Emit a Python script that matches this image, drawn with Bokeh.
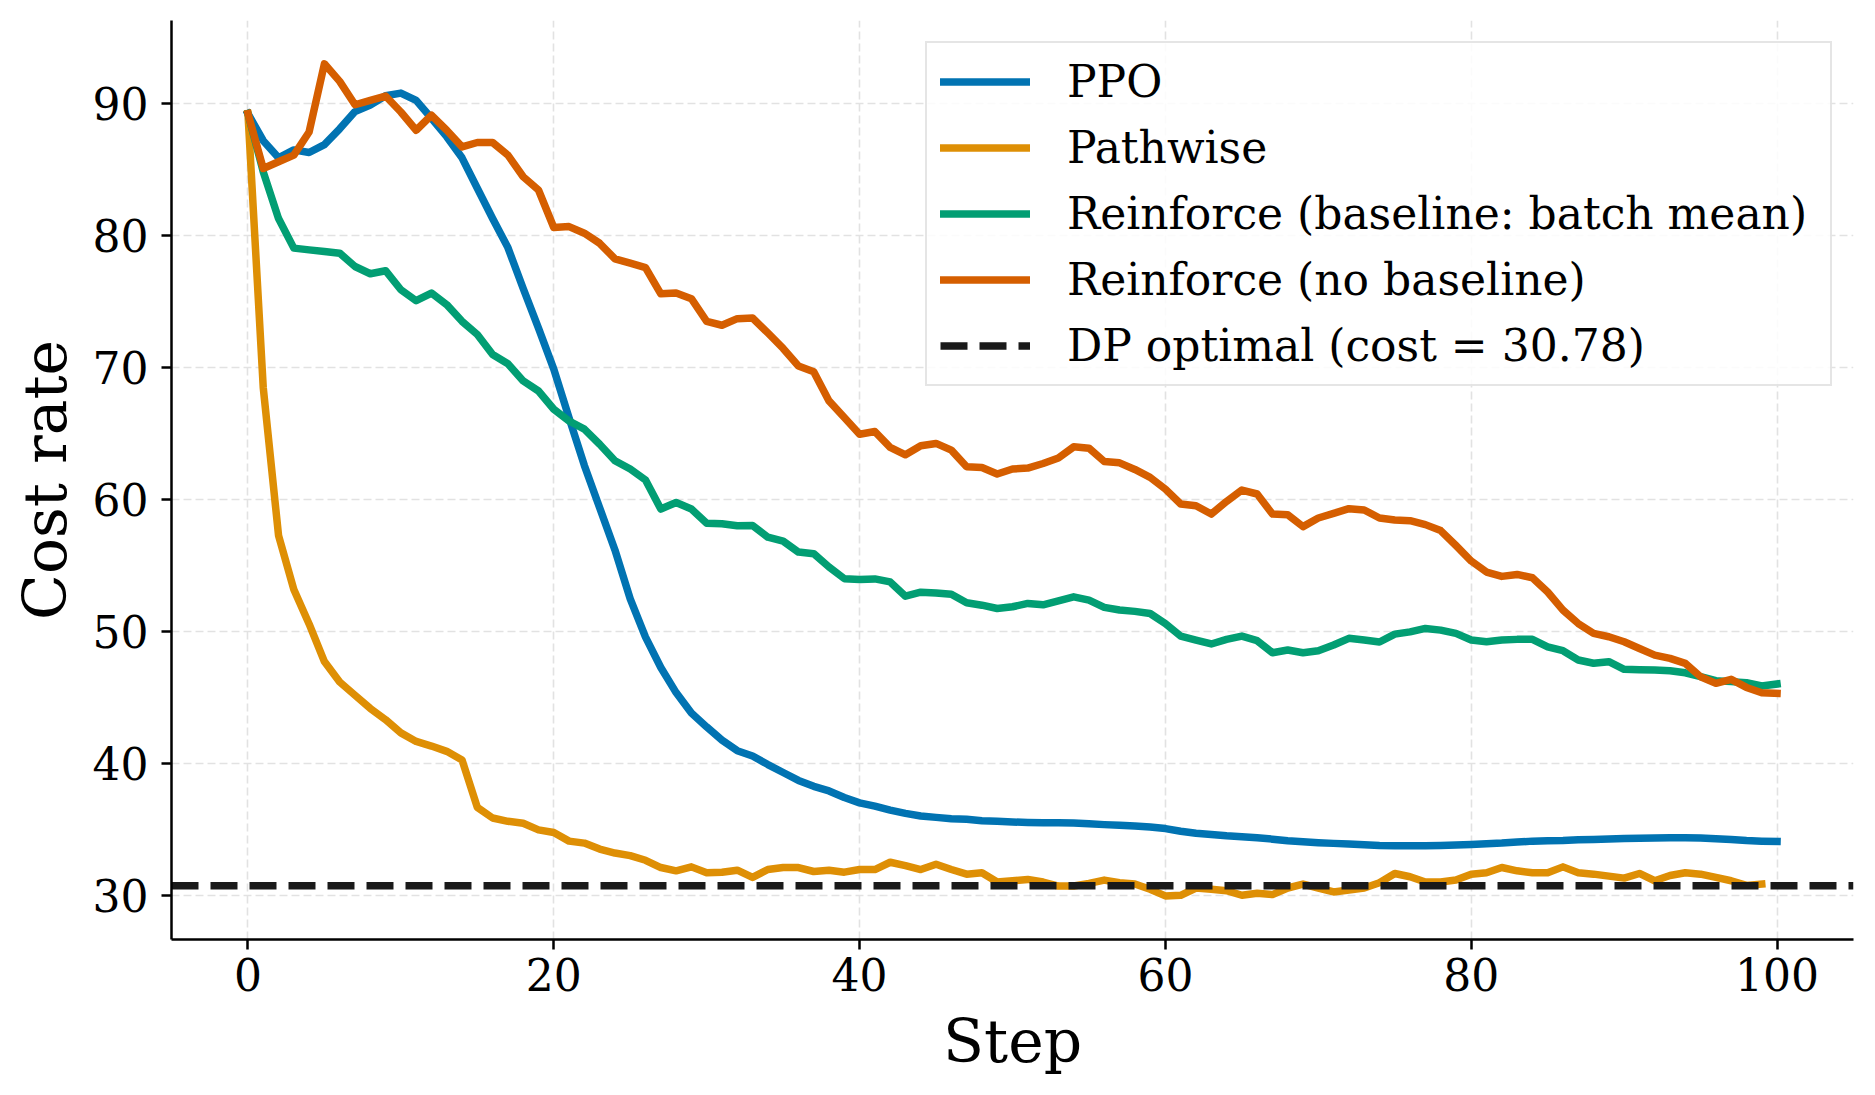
from bokeh.plotting import figure
from bokeh.models import Range1d, FixedTicker, Legend, LegendItem
from bokeh.embed import file_html
from bokeh.resources import INLINE

# Training curves: cost rate per optimisation step
steps = list(range(101))

ppo = [89.25, 87.2, 85.9, 86.5, 86.3, 86.9, 88.1, 89.4, 89.9, 90.6,
       90.8, 90.25, 88.9, 87.5, 85.9, 83.6, 81.3, 79.1, 76.0, 73.0,
       69.9, 66.2, 62.6, 59.4, 56.2, 52.5, 49.6, 47.3, 45.4, 43.85,
       42.8, 41.8, 41.0, 40.6, 39.95, 39.35, 38.75, 38.3, 37.95, 37.45,
       37.05, 36.8, 36.5, 36.25, 36.05, 35.95, 35.85, 35.8, 35.7, 35.65,
       35.6, 35.57, 35.55, 35.55, 35.52, 35.47, 35.4, 35.35, 35.3, 35.22,
       35.1, 34.9, 34.75, 34.65, 34.55, 34.48, 34.4, 34.3, 34.18, 34.1,
       34.03, 33.98, 33.93, 33.88, 33.82, 33.8, 33.8, 33.8, 33.82, 33.85,
       33.9, 33.95, 34.0, 34.08, 34.15, 34.18, 34.2, 34.25, 34.28, 34.32,
       34.35, 34.37, 34.38, 34.4, 34.4, 34.38, 34.33, 34.28, 34.2, 34.15,
       34.12]

pathwise = [89.25, 68.5, 57.3, 53.2, 50.6, 47.75, 46.2, 45.2, 44.2, 43.35,
            42.35, 41.7, 41.35, 40.95, 40.3, 36.7, 35.9, 35.65, 35.5, 35.0,
            34.8, 34.15, 34.0, 33.55, 33.25, 33.05, 32.7, 32.15, 31.9, 32.2,
            31.75, 31.8, 31.95, 31.4, 32.0, 32.15, 32.15, 31.85, 31.95, 31.8,
            32.0, 32.0, 32.55, 32.3, 32.0, 32.4, 32.0, 31.65, 31.75, 31.05,
            31.15, 31.25, 31.05, 30.75, 30.75, 30.95, 31.2, 31.0, 30.9, 30.5,
            30.0, 30.05, 30.6, 30.5, 30.4, 30.05, 30.2, 30.1, 30.6, 30.9,
            30.6, 30.3, 30.45, 30.6, 31.0, 31.7, 31.45, 31.05, 31.05, 31.2,
            31.65, 31.75, 32.15, 31.9, 31.75, 31.75, 32.2, 31.75, 31.65, 31.5,
            31.35, 31.7, 31.15, 31.55, 31.75, 31.65, 31.4, 31.15, 30.8, 30.9]

reinforce_baseline = [89.25, 84.84, 81.3, 79.06, 78.93, 78.8, 78.68, 77.67, 77.12, 77.35,
                      75.91, 75.08, 75.66, 74.78, 73.52, 72.52, 71.01, 70.3, 69.0, 68.24,
                      66.86, 65.97, 65.35, 64.21, 62.96, 62.33, 61.5, 59.3, 59.8, 59.3,
                      58.23, 58.18, 58.03, 58.05, 57.17, 56.87, 56.04, 55.92, 54.91, 54.03,
                      53.96, 54.01, 53.78, 52.7, 53.0, 52.95, 52.85, 52.2, 52.02, 51.77,
                      51.9, 52.15, 52.05, 52.35, 52.65, 52.4, 51.85, 51.65, 51.55, 51.39,
                      50.63, 49.68, 49.38, 49.08, 49.43, 49.68, 49.33, 48.42, 48.62, 48.42,
                      48.57, 49.0, 49.51, 49.38, 49.23, 49.83, 50.0, 50.26, 50.13, 49.88,
                      49.38, 49.25, 49.38, 49.43, 49.43, 48.87, 48.57, 47.87, 47.62, 47.74,
                      47.16, 47.13, 47.11, 47.06, 46.9, 46.6, 46.3, 46.23, 46.15, 45.9,
                      46.05]

reinforce_no_baseline = [89.25, 85.09, 85.6, 86.1, 87.86, 93.02, 91.69, 89.92, 90.25, 90.58,
                         89.37, 87.99, 89.12, 87.99, 86.73, 87.06, 87.06, 86.1, 84.47, 83.46,
                         80.62, 80.69, 80.19, 79.43, 78.25, 77.92, 77.58, 75.6, 75.66, 75.23,
                         73.52, 73.22, 73.72, 73.77, 72.64, 71.46, 70.13, 69.7, 67.49, 66.23,
                         64.97, 65.17, 63.97, 63.41, 64.09, 64.27, 63.76, 62.5, 62.45, 61.95,
                         62.33, 62.4, 62.75, 63.16, 64.01, 63.91, 62.9, 62.8, 62.3, 61.7,
                         60.81, 59.68, 59.55, 58.92, 59.88, 60.74, 60.44, 58.92, 58.87, 57.97,
                         58.62, 58.97, 59.33, 59.23, 58.62, 58.47, 58.42, 58.12, 57.67, 56.54,
                         55.36, 54.53, 54.2, 54.35, 54.1, 53.02, 51.64, 50.63, 49.88, 49.63,
                         49.25, 48.74, 48.24, 47.99, 47.61, 46.6, 46.1, 46.4, 45.79, 45.39,
                         45.34]

dp_optimal = 30.78

x_ticks = [0, 20, 40, 60, 80, 100]
y_ticks = [30, 40, 50, 60, 70, 80, 90]

FONT = "DejaVu Serif"

p = figure(width=1875, height=1095, output_backend="svg", toolbar_location=None,
           x_range=Range1d(-5, 105), y_range=Range1d(26.7, 96.3),
           min_border_left=171, min_border_right=22, min_border_top=20,
           min_border_bottom=156)
p.outline_line_color = None
p.background_fill_color = "white"
p.border_fill_color = "white"

for ax in (p.xaxis, p.yaxis):
    ax.axis_line_width = 2.5
    ax.axis_line_color = "black"
    ax.major_tick_line_width = 2.5
    ax.major_tick_line_color = "black"
    ax.major_tick_out = 10
    ax.major_tick_in = 0
    ax.minor_tick_line_color = None
    ax.major_label_text_font = FONT
    ax.major_label_text_font_size = "44px"
    ax.major_label_text_color = "black"
    ax.axis_label_text_font = FONT
    ax.axis_label_text_font_size = "60px"
    ax.axis_label_text_font_style = "normal"
    ax.axis_label_text_color = "black"

p.xaxis.ticker = FixedTicker(ticks=x_ticks)
p.yaxis.ticker = FixedTicker(ticks=y_ticks)
p.xaxis.axis_label = "Step"
p.yaxis.axis_label = "Cost rate"
p.xaxis.major_label_standoff = 8
p.yaxis.major_label_standoff = 13
p.xaxis.axis_label_standoff = 12
p.yaxis.axis_label_standoff = 10

p.grid.grid_line_color = "#e2e2e2"
p.grid.grid_line_width = 1.6
p.grid.grid_line_dash = "8 4"

LW = 7.5
style = dict(line_width=LW, line_join="round", line_cap="square")
r_ppo = p.line(steps, ppo, line_color="#0173B2", **style)
r_path = p.line(steps[:len(pathwise)], pathwise, line_color="#DE8F05", **style)
r_rb = p.line(steps, reinforce_baseline, line_color="#029E73", **style)
r_rnb = p.line(steps, reinforce_no_baseline, line_color="#D55E00", **style)
r_dp = p.line([p.x_range.start, p.x_range.end], [dp_optimal, dp_optimal],
              line_color="#1a1a1a", line_width=LW, line_dash="27 12")

legend = Legend(items=[
    LegendItem(label="PPO", renderers=[r_ppo]),
    LegendItem(label="Pathwise", renderers=[r_path]),
    LegendItem(label="Reinforce (baseline: batch mean)", renderers=[r_rb]),
    LegendItem(label="Reinforce (no baseline)", renderers=[r_rnb]),
    LegendItem(label=f"DP optimal (cost = {dp_optimal:.2f})", renderers=[r_dp]),
], location="top_right")
legend.label_text_font = FONT
legend.label_text_font_size = "44px"
legend.label_text_color = "black"
legend.glyph_width = 90
legend.glyph_height = 51
legend.label_height = 51
legend.label_width = 750
legend.label_standoff = 37
legend.spacing = 15
legend.padding = 13
legend.margin = 21
legend.border_line_color = "#cccccc"
legend.border_line_width = 2
legend.background_fill_alpha = 0.85
p.add_layout(legend)

open("out.html", "w").write(file_html(p, INLINE))
